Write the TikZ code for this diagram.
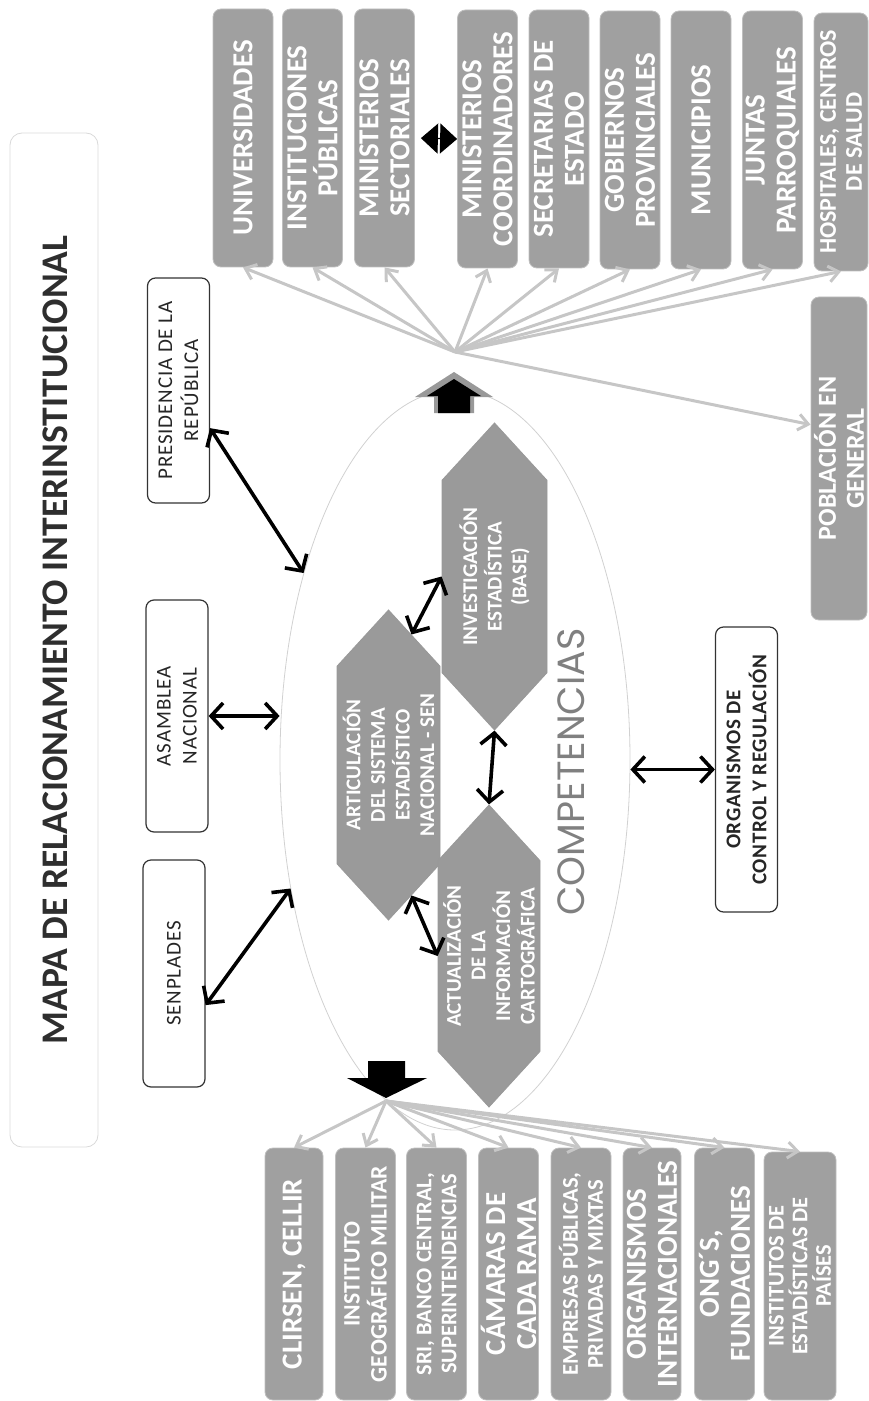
\documentclass[tikz,border=0pt]{standalone}
\usepackage{fontspec}
\setmainfont{Carlito}
\newfontfamily\compfont{Poppins}
\usetikzlibrary{arrows.meta,shapes.geometric,shapes.symbols,calc}

\definecolor{boxgray}{HTML}{A0A0A0}
\definecolor{hexgray}{HTML}{9A9A9A}
\definecolor{fangray}{HTML}{C6C6C6}
\definecolor{titlegray}{HTML}{2E2E2E}

\begin{document}
\begin{tikzpicture}[x=0.5pt,y=-0.5pt,
    inst/.style={rotate=90, draw=black!25, fill=boxgray, rounded corners=4pt,
      minimum width=129pt, minimum height=30pt, inner sep=1pt, align=center,
      text=white, font=\bfseries\fontsize{14.5}{15.5}\selectfont},
    whitebox/.style={rotate=90, draw=black!80, fill=white, rounded corners=4pt,
      line width=0.6pt, minimum height=31pt, inner sep=2pt, align=center,
      text=black!85, font=\addfontfeatures{LetterSpace=4}\fontsize{10.5}{13}\selectfont},
    hexa/.style={signal, signal to=east and west, signal pointer angle=85,
      rotate=90, draw=black!40, fill=hexgray, inner sep=1pt, align=center,
      text=white, font=\bfseries\fontsize{10.5}{12.3}\selectfont},
    link/.style={line width=1.8pt,
      {Straight Barb[length=6pt,width=13pt]}-{Straight Barb[length=6pt,width=13pt]}},
    fan/.style={draw=fangray, line width=1.5pt, -{Straight Barb[length=5pt,width=8pt]}}]

  \useasboundingbox (0,0) rectangle (868,1401);

  % title
  \draw[black!15, rounded corners=6pt] (10,133) rectangle (98,1147);
  \node[rotate=90, text=titlegray, font=\bfseries\fontsize{18.8}{21}\selectfont]
    (title) at (55,640) {MAPA DE RELACIONAMIENTO INTERINSTITUCIONAL};

  % outer actors
  \node[whitebox, minimum width=112.5pt] (pres) at (178.5,390.5) {PRESIDENCIA DE LA\\REP\'UBLICA};
  \node[whitebox, minimum width=116pt] (asam) at (177,716) {ASAMBLEA\\NACIONAL};
  \node[whitebox, minimum width=113.5pt] (senp) at (174,973.5) {SENPLADES};
  \node[whitebox, minimum width=142.5pt, font=\bfseries\addfontfeatures{LetterSpace=3}\fontsize{10.5}{13}\selectfont]
    (org) at (746.5,769.5) {ORGANISMOS DE\\CONTROL Y REGULACI\'ON};

  % competencias
  \node[ellipse, draw=black!18, line width=0.4pt, minimum width=175pt, minimum height=370pt]
    (comp) at (455,760) {};
  \node[rotate=90, text=black!50, font=\compfont\fontsize{19}{21}\selectfont]
    (complabel) at (571,772) {COMPETENCIAS};

  \node[hexa, minimum width=153.5pt, minimum height=52.5pt] (invest) at (494.5,576.5)
    {INVESTIGACI\'ON\\ESTAD\'ISTICA\\(BASE)};
  \node[hexa, minimum width=155pt, minimum height=51.5pt] (artic) at (388.5,765)
    {ARTICULACI\'ON\\DEL SISTEMA\\ESTAD\'ISTICO\\NACIONAL - SEN};
  \node[hexa, minimum width=151pt, minimum height=51pt] (actual) at (489,956)
    {ACTUALIZACI\'ON\\DE LA\\INFORMACI\'ON\\CARTOGR\'AFICA};

  \draw[link] (pres.-140) -- (comp.129);
  \draw[link] (asam.south) -- (asam.south -| comp.west);
  \draw[link] (senp.-135) -- (comp.218);
  \draw[link] (comp.east |- org.north) -- (org.north);
  \draw[link] (artic.-10) -- (invest.north);
  \draw[link] (invest.west) -- (actual.east);
  \draw[link] (artic.-170) -- (actual.north);

  % upper row
  \node[inst] (univ) at (243,138) {UNIVERSIDADES};
  \node[inst] (instpub) at (312.5,138) {INSTITUCIONES\\P\'UBLICAS};
  \node[inst] (minsec) at (384.5,138) {MINISTERIOS\\SECTORIALES};
  \node[inst] (mincoord) at (487.5,139) {MINISTERIOS\\COORDINADORES};
  \node[inst] (secest) at (559,139) {SECRETARIAS DE\\ESTADO};
  \node[inst] (gobprov) at (630,140) {GOBIERNOS\\PROVINCIALES};
  \node[inst] (muni) at (701,140) {MUNICIPIOS};
  \node[inst] (juntas) at (772.5,140) {JUNTAS\\PARROQUIALES};
  \node[inst, minimum height=27pt, font=\bfseries\fontsize{12}{13}\selectfont]
    (hosp) at (841,142) {HOSPITALES, CENTROS\\DE SALUD};
  \node[inst, minimum width=161.5pt, minimum height=28pt, font=\bfseries\fontsize{13}{14}\selectfont]
    (pob) at (839,458.5) {POBLACI\'ON EN\\GENERAL};

  \draw[{Triangle[length=8.5pt,width=15pt]}-{Triangle[length=8.5pt,width=15pt]},
    line width=0.6pt, shorten <=3pt] (minsec.south) -- (mincoord.north);

  % lower row
  \node[inst, minimum width=126pt, minimum height=29pt] (clirsen) at (294,1274) {CLIRSEN, CELLIR};
  \node[inst, minimum width=126pt, font=\bfseries\fontsize{11.8}{13.5}\selectfont]
    (igm) at (365.5,1274) {INSTITUTO\\GEOGR\'AFICO MILITAR};
  \node[inst, minimum width=126pt, font=\bfseries\fontsize{11.2}{12.5}\selectfont]
    (sri) at (436.5,1274) {SRI, BANCO CENTRAL,\\SUPERINTENDENCIAS};
  \node[inst, minimum width=126pt] (camaras) at (508.5,1274) {C\'AMARAS DE\\CADA RAMA};
  \node[inst, minimum width=126pt, font=\bfseries\fontsize{11.3}{12.5}\selectfont]
    (empresas) at (581,1274) {EMPRESAS P\'UBLICAS,\\PRIVADAS Y MIXTAS};
  \node[inst, minimum width=126pt, minimum height=29pt] (orgint) at (652,1274) {ORGANISMOS\\INTERNACIONALES};
  \node[inst, minimum width=126pt] (ongs) at (724.5,1274) {ONG´S,\\FUNDACIONES};
  \node[inst, minimum width=124pt, minimum height=36pt, font=\bfseries\fontsize{11.2}{11.8}\selectfont]
    (inest) at (800,1276) {INSTITUTOS DE\\ESTAD\'ISTICAS DE\\PA\'ISES};

  % block arrows out of the ellipse
  \fill[black!40] (454,372) -- (493,397) -- (474,397) -- (474,413) -- (434,413)
    -- (434,397) -- (415,397) -- cycle;
  \fill[black] (454,379) -- (481,396) -- (470,396) -- (470,413) -- (438,413)
    -- (438,396) -- (427,396) -- cycle;
  \fill[black] (368,1061) -- (405,1061) -- (405,1078) -- (427,1078) -- (386,1098)
    -- (347,1078) -- (368,1078) -- cycle;

  \coordinate (tophub) at (455,352);
  \coordinate (bothub) at (386,1101);

  \foreach \b in {univ,instpub,minsec,mincoord,secest,gobprov,muni,juntas,hosp}
    \draw[fan] (tophub) -- (\b.west);
  \draw[fan] (tophub) -- (pob.40);

  \foreach \b in {clirsen,igm,sri,camaras,empresas,orgint,ongs,inest}
    \draw[fan] (bothub) -- (\b.east);

\end{tikzpicture}
\end{document}
